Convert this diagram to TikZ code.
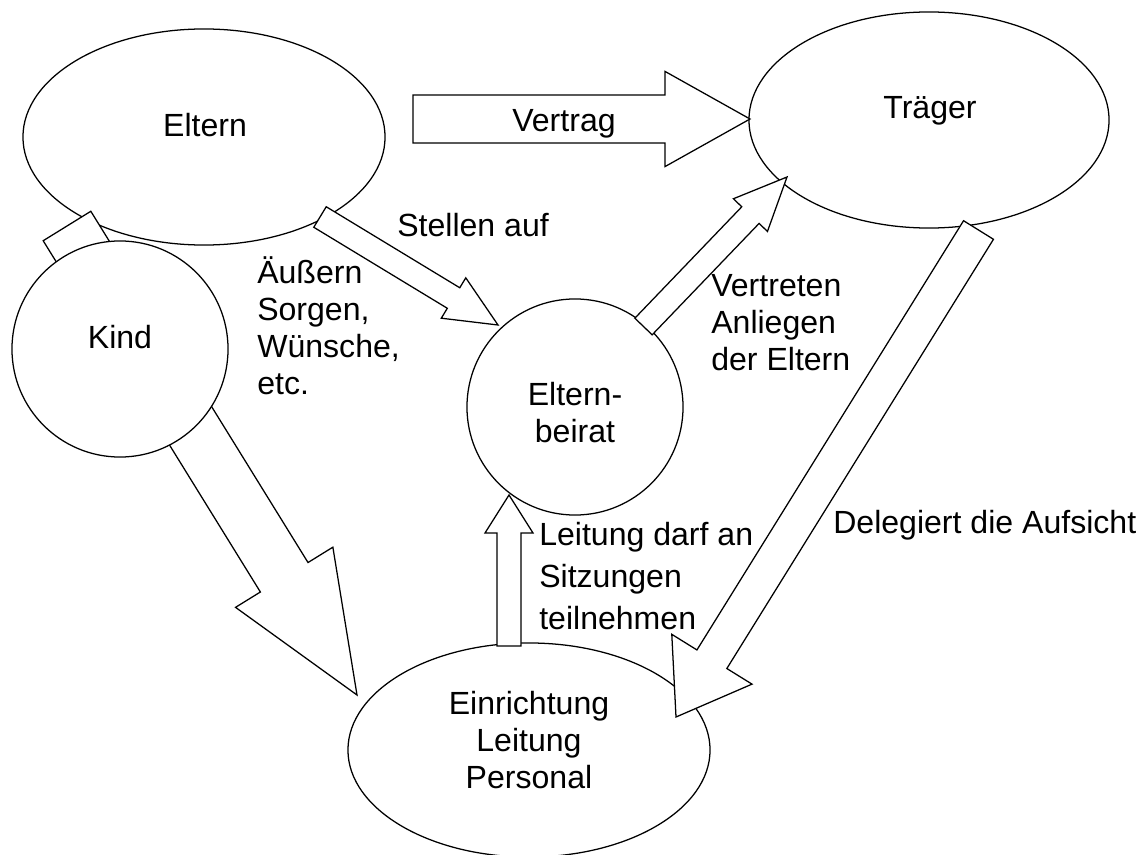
\documentclass[tikz,border=0pt]{standalone}
\usepackage{fontspec}
\setmainfont{Liberation Sans}
\usetikzlibrary{shapes.geometric,calc}

\tikzset{
  outline/.style={draw, fill=white, line width=0.9pt, inner sep=0pt},
  bubble/.style={outline, ellipse, minimum width=9.05cm, minimum height=5.4cm},
  disc/.style={outline, circle, minimum size=5.4cm},
  fatline/.style={draw, fill=white, line width=0.9pt, line join=miter},
  txt/.style={inner sep=0pt, font=\fontsize{22.8pt}{26.3pt}\selectfont}
}

% tail, tip, shaft half width, head half width, head length
\newcommand{\fatarrow}[5]{%
  \coordinate (ahead) at ($(#2)!#5!(#1)$);
  \draw[fatline] ($(#1)!#3!90:(#2)$) -- ($(ahead)!#3!90:(#2)$) -- ($(ahead)!#4!90:(#2)$) -- (#2)
    -- ($(ahead)!#4!-90:(#2)$) -- ($(ahead)!#3!-90:(#2)$) -- ($(#1)!#3!-90:(#2)$) -- cycle;
}

\begin{document}
\begin{tikzpicture}[x=0.025cm, y=-0.025cm]
  \useasboundingbox (0,0) rectangle (1143,854);

  \node[bubble] (eltern) at (204,137) {};

  \coordinate (kind tail) at (67,226);
  \coordinate (kind tip) at (357,695);
  \fatarrow{kind tail}{kind tip}{0.7cm}{1.43cm}{3.46cm}

  \node[disc] (kind) at (120,349) {};
  \node[bubble, minimum width=9cm] (traeger) at (929,120) {};
  \node[disc] (beirat) at (575,407) {};
  \node[bubble, minimum height=5.35cm] (einrichtung) at (529,750) {};

  \coordinate (vertrag tail) at (413,119);
  \coordinate (vertrag tip) at (750,119);
  \fatarrow{vertrag tail}{vertrag tip}{0.6cm}{1.19cm}{2.125cm}

  \coordinate (stellen tail) at (320,217);
  \coordinate (stellen tip) at (498,325);
  \fatarrow{stellen tail}{stellen tip}{0.3cm}{0.59cm}{1.3cm}

  \coordinate (vertreten tail) at (643.5,326.5);
  \coordinate (vertreten tip) at (787,177);
  \fatarrow{vertreten tail}{vertreten tip}{0.3cm}{0.59cm}{1.32cm}

  \coordinate (delegiert tail) at (978.5,230);
  \coordinate (delegiert tip) at (676,717);
  \fatarrow{delegiert tail}{delegiert tip}{0.44cm}{1.18cm}{1.7cm}

  \coordinate (leitung tail) at (509,646);
  \coordinate (leitung tip) at (509,495);
  \fatarrow{leitung tail}{leitung tip}{0.3cm}{0.6cm}{0.95cm}

  \node[txt, anchor=base] (eltern text) at (205,136) {Eltern};
  \node[txt, anchor=base] (traeger text) at (930,118) {Träger};
  \node[txt, anchor=base] (kind text) at (120,348) {Kind};
  \node[txt, align=center] (beirat text) at (575,413) {Eltern-\\beirat};
  \node[txt, align=center] (einrichtung text) at (529,740) {Einrichtung\\Leitung\\Personal};

  \node[txt, anchor=base west] (vertrag text) at (512,131) {Vertrag};
  \node[txt, anchor=base west] (stellen text) at (397,236) {Stellen auf};
  \node[txt, anchor=west, align=left] (aeussern text) at (257,326) {Äußern\\Sorgen,\\Wünsche,\\etc.};
  \node[txt, anchor=west, align=left] (vertreten text) at (711,323) {Vertreten\\Anliegen\\der Eltern};
  \node[txt, anchor=west, align=left, font=\fontsize{22.8pt}{29.9pt}\selectfont] (leitung text) at (539,576) {Leitung darf an\\Sitzungen\\teilnehmen};
  \node[txt, anchor=base west] (delegiert text) at (833,533) {Delegiert die Aufsicht};
\end{tikzpicture}
\end{document}
